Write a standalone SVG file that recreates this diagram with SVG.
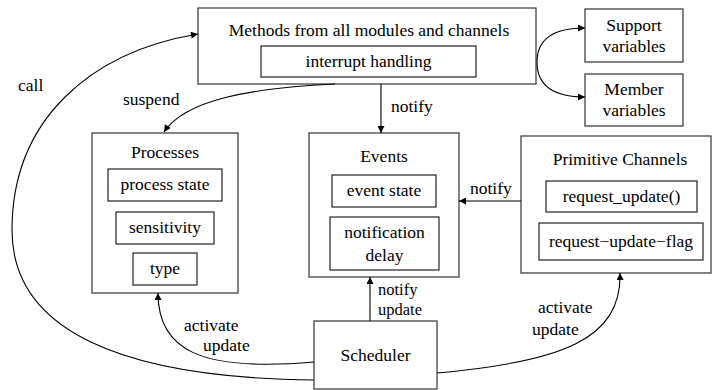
<svg xmlns="http://www.w3.org/2000/svg" width="712" height="390" viewBox="0 0 712 390" font-family="'Liberation Serif', 'Times New Roman', 'DejaVu Serif', serif">
<style>
text{font-family:'Liberation Serif','Times New Roman','DejaVu Serif',serif;font-size:17.5px;fill:#000;text-anchor:middle}
.lbl{text-anchor:start}
.sm{font-size:16.5px}
.box{fill:#fff;stroke:#444;stroke-width:1.3}
.inner{fill:#fff;stroke:#222;stroke-width:1.2}
.edge{fill:none;stroke:#000;stroke-width:1.1;marker-end:url(#ah)}
</style>
<defs>
<marker id="ah" viewBox="0 0 10 10" refX="10" refY="5" markerWidth="9" markerHeight="7" markerUnits="userSpaceOnUse" orient="auto">
<path d="M0,0 L10,5 L0,10 z" fill="#000"/>
</marker>
</defs>
<rect width="712" height="390" fill="#fff"/>
<g id="methods">
<rect class="box" x="198" y="8" width="338" height="76"/>
<text x="369" y="36">Methods from all modules and channels</text>
<rect class="inner" x="261" y="46" width="215" height="31"/>
<text x="368.5" y="67">interrupt handling</text>
</g>
<g id="support">
<rect class="box" x="585" y="9" width="98" height="53"/>
<text x="634" y="31">Support</text>
<text x="634" y="52">variables</text>
</g>
<g id="member">
<rect class="box" x="585" y="74" width="98" height="52"/>
<text x="634" y="95">Member</text>
<text x="634" y="116">variables</text>
</g>
<g id="processes">
<rect class="box" x="92" y="133" width="146" height="160"/>
<text x="165" y="158">Processes</text>
<rect class="inner" x="108" y="169" width="114" height="32"/>
<text x="165" y="190">process state</text>
<rect class="inner" x="116" y="212" width="98" height="32"/>
<text x="165" y="233">sensitivity</text>
<rect class="inner" x="133" y="253" width="64" height="32"/>
<text x="165" y="274">type</text>
</g>
<g id="events">
<rect class="box" x="309" y="133" width="150" height="144"/>
<text x="384" y="162">Events</text>
<rect class="inner" x="332" y="175" width="104" height="32"/>
<text x="384" y="196">event state</text>
<rect class="inner" x="330" y="217" width="109" height="53"/>
<text x="384.5" y="238">notification</text>
<text x="384.5" y="261">delay</text>
</g>
<g id="primitive">
<rect class="box" x="521" y="136" width="190" height="137"/>
<text x="620" y="165">Primitive Channels</text>
<rect class="inner" x="546" y="181" width="151" height="31"/>
<text x="621.5" y="202">request_update()</text>
<rect class="inner" x="539" y="223" width="164" height="37"/>
<text x="621" y="247">request−update−flag</text>
</g>
<g id="scheduler">
<rect class="box" x="314" y="321" width="123" height="68"/>
<text x="375.5" y="361">Scheduler</text>
</g>
<g id="connectors">
<path class="edge" d="M537,62 C537,40 552,28 585,28"/>
<path class="edge" d="M537,62 C537,84 552,97 585,97"/>
<path class="edge" d="M381,84 L381,133"/>
<path class="edge" d="M335,84 C250,88 185,100 164,132"/>
<path class="edge" d="M521,201 L459,201"/>
<path class="edge" d="M370,321 L370,277"/>
<path class="edge" d="M314,362 C200,372 158,350 158,293"/>
<path class="edge" d="M437,373 C560,362 622,340 620,273"/>
<path class="edge" d="M314,380 C120,378 12,330 12,230 C12,120 90,52 198,34"/>
<text class="lbl" x="18" y="91">call</text>
<text class="lbl" x="123" y="105">suspend</text>
<text class="lbl" x="391" y="112">notify</text>
<text class="lbl" x="470" y="194">notify</text>
<text class="lbl sm" x="378" y="295">notify</text>
<text class="lbl sm" x="378" y="314.5">update</text>
<text class="lbl" x="184" y="331">activate</text>
<text class="lbl" x="203" y="350.5">update</text>
<text class="lbl" x="538" y="313">activate</text>
<text class="lbl" x="532" y="335">update</text>
</g>
</svg>
